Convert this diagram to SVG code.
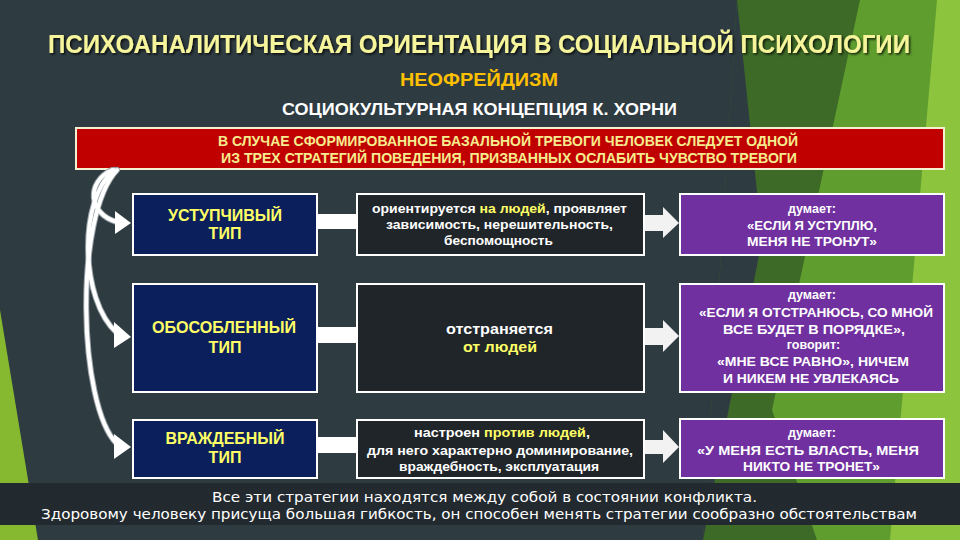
<svg xmlns="http://www.w3.org/2000/svg" width="960" height="540" viewBox="0 0 960 540">
<defs>
<style>
.bold{font-family:"Liberation Sans",Arial,sans-serif;font-weight:bold;}
.reg{font-family:"Liberation Sans",Arial,sans-serif;}
.nav{fill:#0a1f5c;stroke:#ffffff;stroke-width:2;}
.mid{fill:#1f2529;stroke:#ffffff;stroke-width:2;}
.pur{fill:#7030a0;stroke:#ffffff;stroke-width:2;}
.yl{fill:#ffff66;}
.wt{fill:#ffffff;}
.curve{fill:none;stroke:#ffffff;stroke-width:4;stroke-linecap:round;}
.curveO{fill:none;stroke:#9aa3a8;stroke-width:6;stroke-linecap:round;}
.bar{fill:#ffffff;}
.blk{fill:#f2f2f2;}
</style>
<filter id="sh" x="-5%" y="-20%" width="110%" height="140%">
<feDropShadow dx="1.5" dy="1.5" stdDeviation="0.8" flood-color="#000" flood-opacity="0.8"/>
</filter>
</defs>

<!-- background -->
<rect x="0" y="0" width="960" height="540" fill="#2e3b41"/>
<polygon points="737,0 960,0 960,540 703,540" fill="#3d6a27"/>
<polygon points="737,0 762,240 703,540" fill="#2e3b41"/>
<polygon points="860,0 960,0 960,540 817,540 772,410" fill="#5f9d2e"/>
<polygon points="937,0 960,0 960,540 890,540" fill="#8cc43e"/>
<polygon points="0,310 38,540 0,540" fill="#86b92f"/>

<!-- headings -->
<text x="479" y="53" text-anchor="middle" class="bold" font-size="25" fill="#f7f59c" textLength="862" lengthAdjust="spacingAndGlyphs" filter="url(#sh)">ПСИХОАНАЛИТИЧЕСКАЯ ОРИЕНТАЦИЯ В СОЦИАЛЬНОЙ ПСИХОЛОГИИ</text>
<text x="479" y="86" text-anchor="middle" class="bold" font-size="17.5" fill="#ffc000" textLength="158" lengthAdjust="spacingAndGlyphs">НЕОФРЕЙДИЗМ</text>
<text x="479.5" y="115" text-anchor="middle" class="bold" font-size="17" fill="#ffffff" textLength="395" lengthAdjust="spacingAndGlyphs">СОЦИОКУЛЬТУРНАЯ КОНЦЕПЦИЯ К. ХОРНИ</text>

<g id="intro">
<rect x="76" y="128" width="868" height="41" fill="#c00000" stroke="#f4f1d0" stroke-width="2"/>
<text x="508" y="146" text-anchor="middle" class="bold" font-size="15" fill="#f6ec8e" textLength="580" lengthAdjust="spacingAndGlyphs">В СЛУЧАЕ СФОРМИРОВАННОЕ БАЗАЛЬНОЙ ТРЕВОГИ ЧЕЛОВЕК СЛЕДУЕТ ОДНОЙ</text>
<text x="509" y="163" text-anchor="middle" class="bold" font-size="15" fill="#f6ec8e" textLength="576" lengthAdjust="spacingAndGlyphs">ИЗ ТРЕХ СТРАТЕГИЙ ПОВЕДЕНИЯ, ПРИЗВАННЫХ ОСЛАБИТЬ ЧУВСТВО ТРЕВОГИ</text>
</g>

<!-- connectors -->
<g id="connectors">
<path class="curveO" d="M 112 170 C 86 182, 88 214, 117 222"/>
<path class="curveO" d="M 114 170 C 78 200, 80 300, 117 333"/>
<path class="curveO" d="M 117 170 C 74 215, 78 405, 117 444"/>
<path class="curve" d="M 112 170 C 86 182, 88 214, 117 222"/>
<path class="curve" d="M 114 170 C 78 200, 80 300, 117 333"/>
<path class="curve" d="M 117 170 C 74 215, 78 405, 117 444"/>
<polygon class="bar" points="115,211 131,223 115,234"/>
<polygon class="bar" points="114,322 131,337 114,348"/>
<polygon class="bar" points="114,434 131,447 114,459"/>

<rect class="bar" x="317" y="214" width="41" height="15"/>
<rect class="bar" x="317" y="327" width="41" height="16"/>
<rect class="bar" x="317" y="437" width="41" height="16"/>

<polygon class="blk" points="644,215 663,215 663,207 679,223 663,238 663,231 644,231"/>
<polygon class="blk" points="644,328 663,328 663,320 679,336 663,352 663,345 644,345"/>
<polygon class="blk" points="644,440 663,440 663,430 679,447 663,463 663,454 644,454"/>
</g>

<!-- left column -->
<g id="type1">
<rect class="nav" x="133" y="194" width="184" height="61"/>
<text x="225" y="221" text-anchor="middle" class="bold yl" font-size="16" textLength="114" lengthAdjust="spacingAndGlyphs">УСТУПЧИВЫЙ</text>
<text x="225" y="239" text-anchor="middle" class="bold yl" font-size="16">ТИП</text>
</g>
<g id="type2">
<rect class="nav" x="133" y="284" width="184" height="108"/>
<text x="224" y="333" text-anchor="middle" class="bold yl" font-size="16" textLength="144" lengthAdjust="spacingAndGlyphs">ОБОСОБЛЕННЫЙ</text>
<text x="225" y="353" text-anchor="middle" class="bold yl" font-size="16">ТИП</text>
</g>
<g id="type3">
<rect class="nav" x="133" y="420" width="184" height="58"/>
<text x="225" y="444" text-anchor="middle" class="bold yl" font-size="16" textLength="119" lengthAdjust="spacingAndGlyphs">ВРАЖДЕБНЫЙ</text>
<text x="225" y="463" text-anchor="middle" class="bold yl" font-size="16">ТИП</text>
</g>

<!-- middle column -->
<g id="desc1">
<rect class="mid" x="357" y="194" width="287" height="61"/>
<text x="499.5" y="213" text-anchor="middle" class="bold wt" font-size="13.5" textLength="255" lengthAdjust="spacingAndGlyphs">ориентируется <tspan class="yl">на людей</tspan>, проявляет</text>
<text x="499.5" y="229" text-anchor="middle" class="bold wt" font-size="13.5" textLength="227" lengthAdjust="spacingAndGlyphs">зависимость, нерешительность,</text>
<text x="498.5" y="245" text-anchor="middle" class="bold wt" font-size="13.5" textLength="109" lengthAdjust="spacingAndGlyphs">беспомощность</text>
</g>
<g id="desc2">
<rect class="mid" x="357" y="284" width="287" height="108"/>
<text x="499.5" y="334" text-anchor="middle" class="bold wt" font-size="15" textLength="107" lengthAdjust="spacingAndGlyphs">отстраняется</text>
<text x="500" y="352" text-anchor="middle" class="bold yl" font-size="15" textLength="74" lengthAdjust="spacingAndGlyphs">от людей</text>
</g>
<g id="desc3">
<rect class="mid" x="357" y="420" width="287" height="58"/>
<text x="502" y="437" text-anchor="middle" class="bold wt" font-size="13.5" textLength="176" lengthAdjust="spacingAndGlyphs">настроен <tspan class="yl">против людей</tspan>,</text>
<text x="500" y="455" text-anchor="middle" class="bold wt" font-size="13.5" textLength="266" lengthAdjust="spacingAndGlyphs">для него характерно доминирование,</text>
<text x="499" y="471" text-anchor="middle" class="bold wt" font-size="13.5" textLength="200" lengthAdjust="spacingAndGlyphs">враждебность, эксплуатация</text>
</g>

<!-- right column -->
<g id="thought1">
<rect class="pur" x="680" y="194" width="264" height="61"/>
<text x="812" y="213" text-anchor="middle" class="bold wt" font-size="12.5">думает:</text>
<text x="812" y="230" text-anchor="middle" class="bold wt" font-size="13.5" textLength="130" lengthAdjust="spacingAndGlyphs">«ЕСЛИ Я УСТУПЛЮ,</text>
<text x="812" y="246" text-anchor="middle" class="bold wt" font-size="13.5" textLength="130" lengthAdjust="spacingAndGlyphs">МЕНЯ НЕ ТРОНУТ»</text>
</g>
<g id="thought2">
<rect class="pur" x="680" y="284" width="264" height="108"/>
<text x="812" y="299" text-anchor="middle" class="bold wt" font-size="12.5">думает:</text>
<text x="816" y="317" text-anchor="middle" class="bold wt" font-size="13.5" textLength="234" lengthAdjust="spacingAndGlyphs">«ЕСЛИ Я ОТСТРАНЮСЬ, СО МНОЙ</text>
<text x="814" y="334" text-anchor="middle" class="bold wt" font-size="13.5" textLength="182" lengthAdjust="spacingAndGlyphs">ВСЕ БУДЕТ В ПОРЯДКЕ»,</text>
<text x="813.5" y="349" text-anchor="middle" class="bold wt" font-size="12.5">говорит:</text>
<text x="813" y="366" text-anchor="middle" class="bold wt" font-size="13.5" textLength="192" lengthAdjust="spacingAndGlyphs">«МНЕ ВСЕ РАВНО», НИЧЕМ</text>
<text x="811" y="383" text-anchor="middle" class="bold wt" font-size="13.5" textLength="176" lengthAdjust="spacingAndGlyphs">И НИКЕМ НЕ УВЛЕКАЯСЬ</text>
</g>
<g id="thought3">
<rect class="pur" x="680" y="419" width="264" height="59"/>
<text x="812" y="437" text-anchor="middle" class="bold wt" font-size="12.5">думает:</text>
<text x="808" y="455" text-anchor="middle" class="bold wt" font-size="13.5" textLength="222" lengthAdjust="spacingAndGlyphs">«У МЕНЯ ЕСТЬ ВЛАСТЬ, МЕНЯ</text>
<text x="811.5" y="471" text-anchor="middle" class="bold wt" font-size="13.5" textLength="137" lengthAdjust="spacingAndGlyphs">НИКТО НЕ ТРОНЕТ»</text>
</g>

<!-- bottom note -->
<g id="note">
<rect x="0" y="483" width="960" height="42" fill="#232a2f"/>
<text x="484.5" y="502" text-anchor="middle" font-family="'DejaVu Sans',Verdana,sans-serif" font-size="14" fill="#ffffff" textLength="545" lengthAdjust="spacingAndGlyphs">Все эти стратегии находятся между собой в состоянии конфликта.</text>
<text x="479" y="519" text-anchor="middle" font-family="'DejaVu Sans',Verdana,sans-serif" font-size="14" fill="#ffffff" textLength="876" lengthAdjust="spacingAndGlyphs">Здоровому человеку присуща большая гибкость, он способен менять стратегии сообразно обстоятельствам</text>
</g>
</svg>
